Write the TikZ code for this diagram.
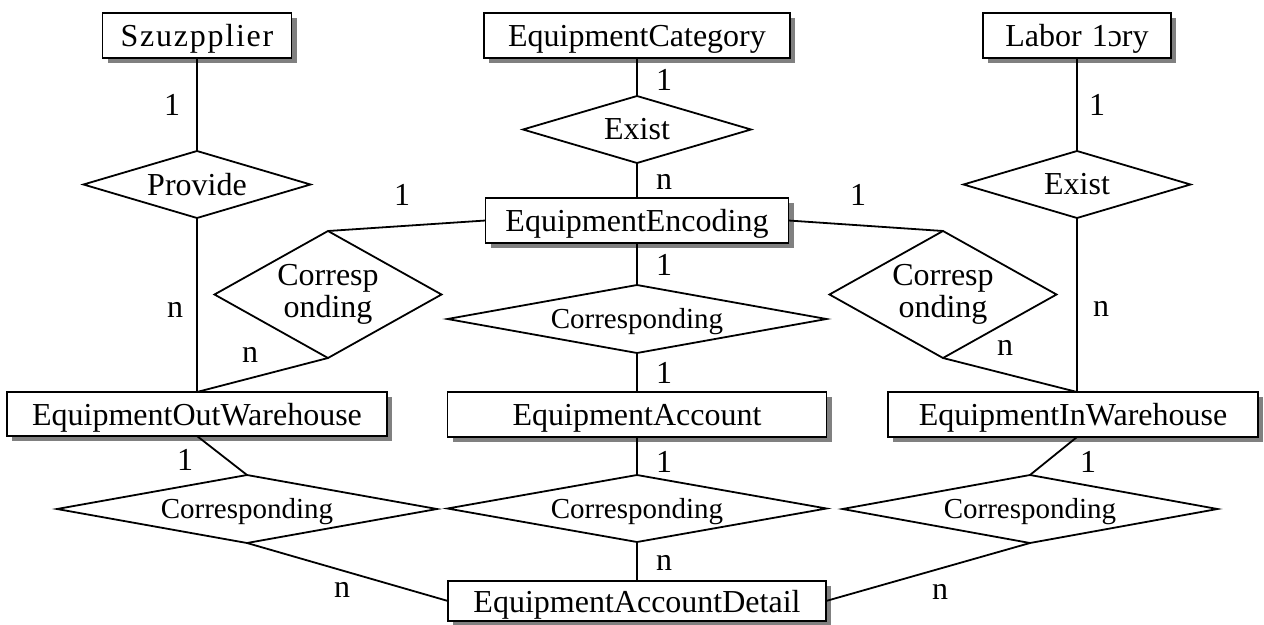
\documentclass[tikz,border=0pt]{standalone}
\usepackage{fontspec}
\setmainfont{Liberation Serif}
\usetikzlibrary{shapes.geometric,shadows}
\definecolor{shadowgrey}{RGB}{128,128,128}

\begin{document}
\begin{tikzpicture}[x=1pt,y=-1pt,
  every node/.style={inner sep=0pt,outer sep=0pt},
  conn/.style={line width=1.8pt},
  entity/.style={draw,rectangle,line width=1.8pt,fill=white,minimum height=45pt,
    font=\fontsize{32}{36}\selectfont,text height=22pt,text depth=0pt,
    drop shadow={shadow xshift=5pt,shadow yshift=-5pt,fill=shadowgrey,opacity=1}},
  rel/.style={draw,diamond,line width=1.8pt,align=center,
    font=\fontsize{32}{32}\selectfont},
  relwide/.style={rel,font=\fontsize{29}{32}\selectfont,text height=19pt,text depth=0pt},
  card/.style={font=\fontsize{32}{36}\selectfont}]

\useasboundingbox (0,0) rectangle (1264,624);

% entities
\node[entity,minimum width=189pt] (sup) at (197,35.5) {\addfontfeatures{LetterSpace=5.5}Szuzpplier};
\node[entity,minimum width=306pt] (cat) at (637,35.5) {EquipmentCategory};
\node[entity,minimum width=188pt] (lab) at (1077,35.5) {Labor\hspace{10pt}1ɔry};
\node[entity,minimum width=303pt] (enc) at (637,220.5) {EquipmentEncoding};
\node[entity,minimum width=380pt,minimum height=44pt] (eow) at (197,414) {EquipmentOutWarehouse};
\node[entity,minimum width=379pt] (acc) at (637,414.5) {EquipmentAccount};
\node[entity,minimum width=370pt] (eiw) at (1073,414.5) {EquipmentInWarehouse};
\node[entity,minimum width=378pt,minimum height=40pt] (det) at (637,601) {EquipmentAccountDetail};

% relationships
\node[rel,shape aspect=3.39,minimum width=227pt,minimum height=67pt] (prov) at (197,184.5) {Provide};
\node[rel,shape aspect=3.4,minimum width=228pt,minimum height=67pt] (ex1) at (637,129.5) {Exist};
\node[rel,shape aspect=3.39,minimum width=227pt,minimum height=67pt] (ex2) at (1077,184.5) {Exist};
\node[rel,shape aspect=1.79,minimum width=227pt,minimum height=127pt] (crl) at (328,294.5) {Corresp\\onding};
\node[rel,shape aspect=1.79,minimum width=227pt,minimum height=127pt] (crr) at (943,294.5) {Corresp\\onding};
\node[relwide,shape aspect=5.57,minimum width=379pt,minimum height=68pt] (crm) at (637,319) {Corresponding};
\node[relwide,shape aspect=5.59,minimum width=380pt,minimum height=68pt] (cbl) at (247,509) {Corresponding};
\node[relwide,shape aspect=5.66,minimum width=379pt,minimum height=67pt] (cbm) at (637,508.5) {Corresponding};
\node[relwide,shape aspect=5.51,minimum width=375pt,minimum height=68pt] (cbr) at (1030,509) {Corresponding};

% right-hand column line
\coordinate (rcol) at (1077,0);

% connectors
\draw[conn] (sup.south) -- (prov.north);
\draw[conn] (prov.south) -- (eow.north);
\draw[conn] (cat.south) -- (ex1.north);
\draw[conn] (ex1.south) -- (enc.north);
\draw[conn] (lab.south) -- (ex2.north);
\draw[conn] (ex2.south) -- (rcol |- eiw.north);
\draw[conn] (enc.west) -- (crl.north);
\draw[conn] (crl.south) -- (eow.north);
\draw[conn] (enc.east) -- (crr.north);
\draw[conn] (crr.south) -- (rcol |- eiw.north);
\draw[conn] (enc.south) -- (crm.north);
\draw[conn] (crm.south) -- (acc.north);
\draw[conn] (acc.south) -- (cbm.north);
\draw[conn] (cbm.south) -- (det.north);
\draw[conn] (eow.south) -- (cbl.north);
\draw[conn] (cbl.south) -- (det.west);
\draw[conn] (rcol |- eiw.south) -- (cbr.north);
\draw[conn] (cbr.south) -- (det.east);

% cardinalities
\node[card] (c1) at (172,105) {1};
\node[card] (c2) at (175,310) {n};
\node[card] (c3) at (402,195) {1};
\node[card] (c4) at (250,355) {n};
\node[card] (c5) at (664,80) {1};
\node[card] (c6) at (664,182) {n};
\node[card] (c7) at (664,265) {1};
\node[card] (c8) at (664,373) {1};
\node[card] (c9) at (664,462) {1};
\node[card] (c10) at (664,563) {n};
\node[card] (c11) at (858,195) {1};
\node[card] (c12) at (1097,105) {1};
\node[card] (c13) at (1101,309) {n};
\node[card] (c14) at (1005,348) {n};
\node[card] (c15) at (185,460) {1};
\node[card] (c16) at (342,590) {n};
\node[card] (c17) at (1088,462) {1};
\node[card] (c18) at (940,592) {n};
\end{tikzpicture}
\end{document}
